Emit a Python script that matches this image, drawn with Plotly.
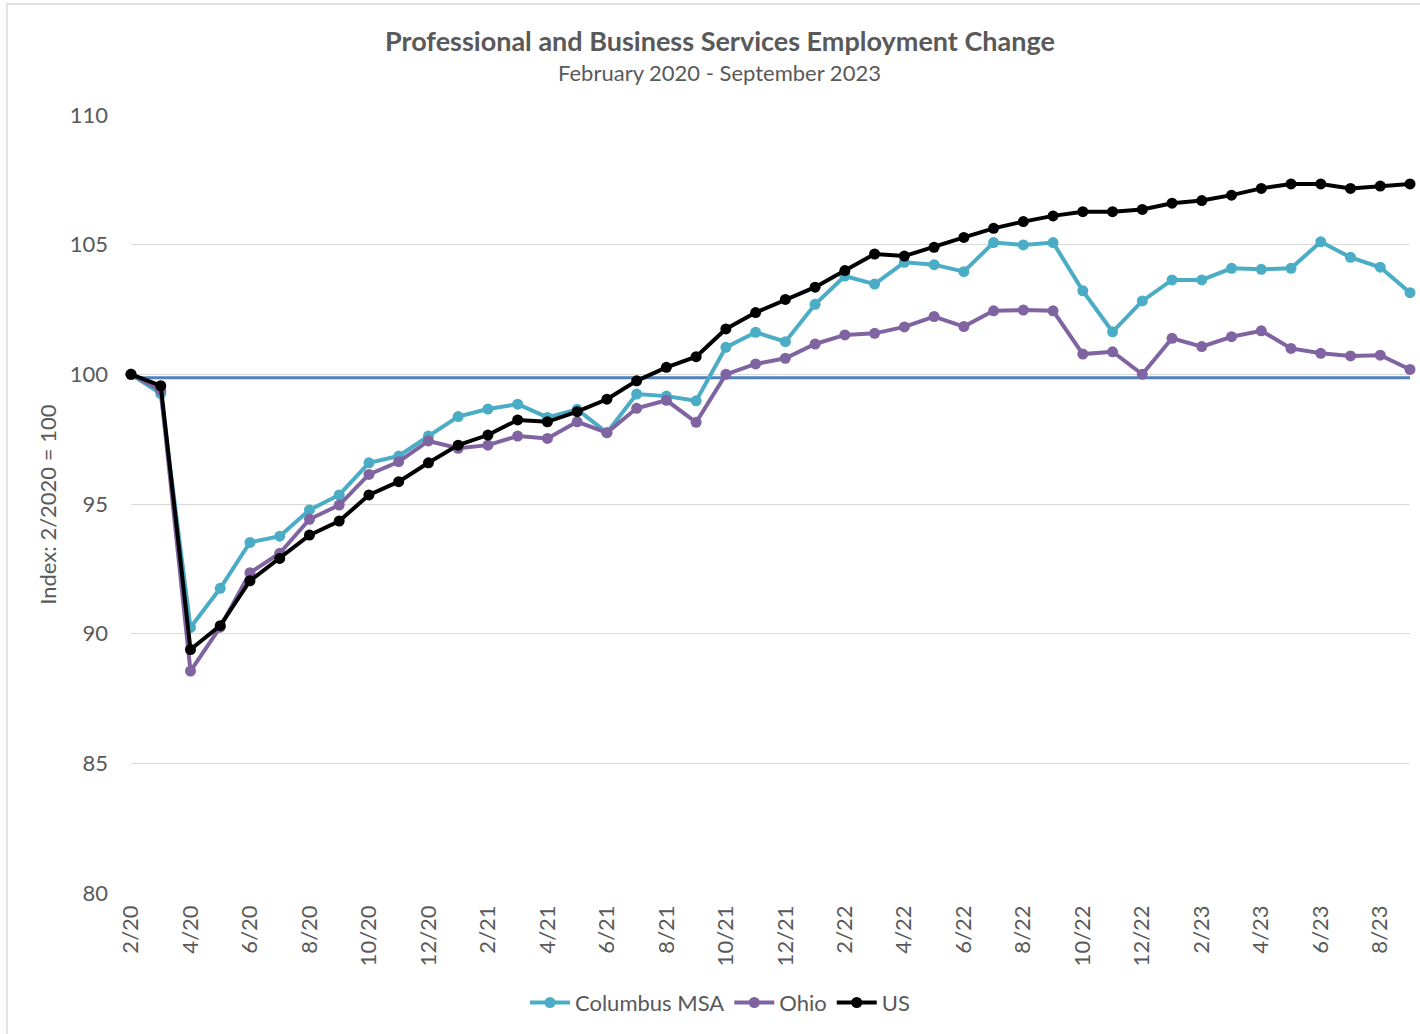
import plotly.graph_objects as go

months = ["2/20", "3/20", "4/20", "5/20", "6/20", "7/20", "8/20", "9/20", "10/20", "11/20", "12/20",
          "1/21", "2/21", "3/21", "4/21", "5/21", "6/21", "7/21", "8/21", "9/21", "10/21", "11/21", "12/21",
          "1/22", "2/22", "3/22", "4/22", "5/22", "6/22", "7/22", "8/22", "9/22", "10/22", "11/22", "12/22",
          "1/23", "2/23", "3/23", "4/23", "5/23", "6/23", "7/23", "8/23", "9/23"]

columbus = [100.0, 99.26, 90.24, 91.75, 93.52, 93.76, 94.77, 95.35, 96.59, 96.85, 97.62,
            98.37, 98.66, 98.85, 98.34, 98.65, 97.75, 99.24, 99.16, 98.98, 101.04, 101.62, 101.26,
            102.70, 103.79, 103.48, 104.32, 104.23, 103.96, 105.08, 104.99, 105.08, 103.22, 101.64, 102.83,
            103.64, 103.64, 104.09, 104.05, 104.09, 105.11, 104.51, 104.13, 103.15]

ohio = [100.0, 99.39, 88.56, 90.25, 92.35, 93.10, 94.41, 94.96, 96.14, 96.63, 97.43,
        97.15, 97.27, 97.62, 97.53, 98.17, 97.75, 98.69, 99.00, 98.15, 100.00, 100.40, 100.62,
        101.17, 101.52, 101.58, 101.83, 102.23, 101.84, 102.45, 102.48, 102.45, 100.78, 100.87, 100.00,
        101.39, 101.07, 101.45, 101.68, 101.00, 100.81, 100.71, 100.74, 100.19]

us = [100.0, 99.56, 89.39, 90.31, 92.04, 92.90, 93.80, 94.34, 95.35, 95.86, 96.59,
      97.27, 97.66, 98.24, 98.17, 98.56, 99.04, 99.75, 100.27, 100.68, 101.75, 102.38, 102.89,
      103.36, 104.00, 104.64, 104.56, 104.90, 105.28, 105.63, 105.89, 106.11, 106.27, 106.27, 106.36,
      106.60, 106.70, 106.91, 107.17, 107.34, 107.34, 107.17, 107.26, 107.34]

baseline = 99.87
tick_labels = months[::2]

series = [("Columbus MSA", columbus, "#4BACC6"),
          ("Ohio", ohio, "#8064A2"),
          ("US", us, "#000000")]

FONT = "Lato"
GREY = "#595959"

fig = go.Figure()
for name, vals, color in series:
    fig.add_trace(go.Scatter(
        x=months, y=vals, name=name, mode="lines+markers",
        line=dict(color=color, width=4),
        marker=dict(color=color, size=11),
        cliponaxis=False,
    ))

fig.add_shape(type="line", xref="x", yref="y", x0=-0.35, x1=len(months) - 1,
              y0=baseline, y1=baseline, line=dict(color="#4F81BD", width=3), layer="below")

# outer chart border (left and top visible)
fig.add_shape(type="rect", xref="paper", yref="paper", x0=-0.097, x1=1.05, y0=-0.4, y1=1.1427,
              line=dict(color="#d9d9d9", width=1.5), layer="below")

fig.add_annotation(text="<b>Professional and Business Services Employment Change</b>",
                   xref="paper", yref="paper", x=0.4605, y=1.0964, showarrow=False,
                   yanchor="middle", font=dict(family=FONT, size=27, color=GREY))
fig.add_annotation(text="February 2020 - September 2023",
                   xref="paper", yref="paper", x=0.4605, y=1.054, showarrow=False,
                   yanchor="middle", font=dict(family=FONT, size=22, color=GREY))
fig.add_annotation(text="Index: 2/2020 = 100", textangle=-90,
                   xref="paper", yref="paper", x=-0.0649, y=0.499, showarrow=False,
                   xanchor="center", yanchor="middle", font=dict(family=FONT, size=22, color=GREY))

fig.update_layout(
    width=1420, height=1034,
    margin=dict(l=131, r=10, t=115, b=141),
    paper_bgcolor="white", plot_bgcolor="white",
    font=dict(family=FONT, color=GREY),
    showlegend=True,
    legend=dict(orientation="h", x=0.4605, xanchor="center", y=-0.141, yanchor="middle",
                font=dict(family=FONT, size=22, color=GREY), itemwidth=40, tracegroupgap=0),
    xaxis=dict(type="category", range=[0, len(months) - 1], tickmode="array",
               tickvals=tick_labels, ticktext=tick_labels, tickangle=-90,
               tickfont=dict(family=FONT, size=22, color=GREY), ticklabelstandoff=7,
               showgrid=False, showline=False, ticks="", zeroline=False),
    yaxis=dict(range=[80, 110], dtick=5, tick0=80, showgrid=True, gridcolor="#d9d9d9", gridwidth=1,
               zeroline=False, showline=False, ticks="",
               tickfont=dict(family=FONT, size=22, color=GREY), ticklabelstandoff=22),
)

fig.write_html("out.html", config={"displayModeBar": False},
               post_script="document.body.style.margin='0';document.body.style.overflow='hidden';")
